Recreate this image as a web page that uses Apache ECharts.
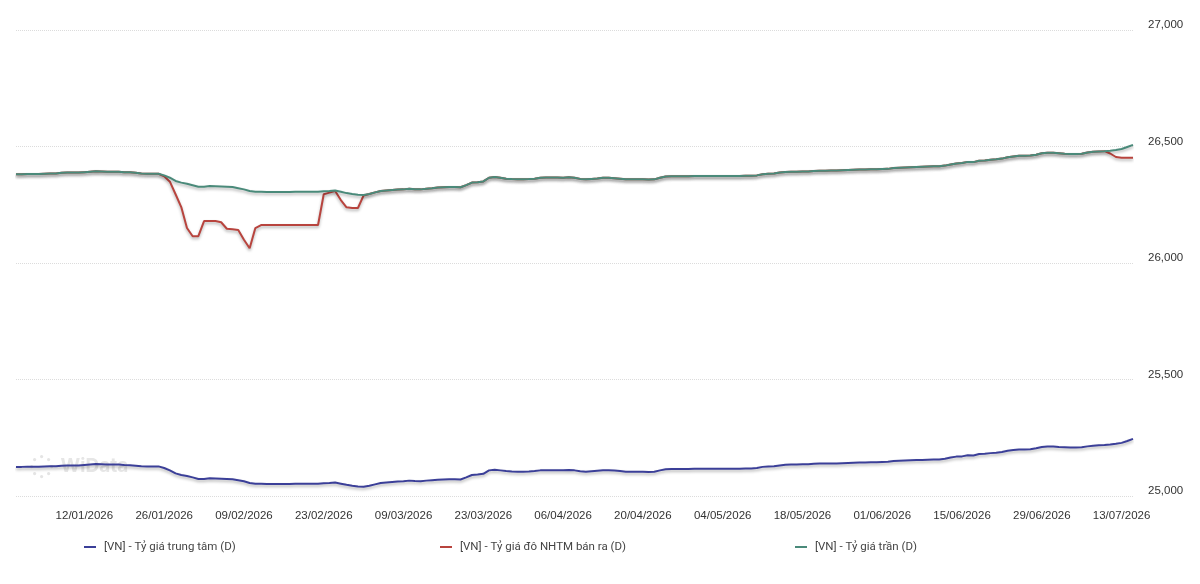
<!DOCTYPE html>
<html><head><meta charset="utf-8">
<script src="https://cdn.jsdelivr.net/npm/echarts@6/dist/echarts.min.js"></script>
<style>html,body{margin:0;padding:0;background:#fff}#c{width:1200px;height:584px}</style>
</head><body><div id="c"></div>
<script>
// Daily categories 31/12/2025 .. 15/07/2026
const START_UTC = Date.UTC(2025, 11, 31);
const DAY_COUNT = 197;
const categories = [];
for (let i = 0; i < DAY_COUNT; i++) {
  const d = new Date(START_UTC + i * 86400000);
  const dd = String(d.getUTCDate()).padStart(2, '0');
  const mm = String(d.getUTCMonth() + 1).padStart(2, '0');
  categories.push(dd + '/' + mm + '/' + d.getUTCFullYear());
}

const seriesNames = [
  '[VN] - Tỷ giá trung tâm (D)',
  '[VN] - Tỷ giá đô NHTM bán ra (D)',
  '[VN] - Tỷ giá trần (D)'
];

const central = [
25125,25125,25126,25126,25126,25127,25128,25128,25130,25131,
25131,25131,25133,25135,25137,25136,25135,25135,25135,25133,
25132,25130,25128,25127,25127,25127,25120,25110,25097,25090,
25086,25080,25073,25073,25076,25075,25074,25073,25072,25068,
25063,25056,25053,25053,25052,25052,25052,25052,25052,25053,
25053,25053,25053,25053,25055,25056,25058,25053,25048,25044,
25041,25040,25044,25050,25056,25058,25060,25062,25063,25066,
25064,25063,25066,25068,25070,25071,25072,25072,25071,25080,
25090,25092,25095,25110,25113,25110,25107,25105,25104,25104,
25105,25107,25110,25111,25111,25111,25110,25112,25110,25106,
25104,25106,25108,25110,25110,25109,25107,25104,25104,25104,
25104,25103,25104,25110,25115,25116,25116,25116,25116,25117,
25117,25117,25117,25117,25117,25117,25117,25117,25118,25118,
25120,25125,25127,25128,25131,25134,25135,25135,25136,25136,
25138,25139,25139,25140,25140,25141,25142,25143,25144,25144,
25145,25145,25146,25147,25150,25151,25152,25153,25154,25155,
25156,25157,25157,25160,25165,25169,25170,25175,25174,25180,
25181,25184,25186,25189,25194,25197,25200,25200,25201,25205,
25210,25212,25212,25210,25209,25208,25208,25209,25213,25216,
25218,25219,25221,25224,25228,25236,25245
];

const commercialSell = [
26381,26381,26382,26382,26382,26383,26384,26384,26387,26388,
26388,26388,26390,26392,26394,26393,26392,26392,26392,26390,
26389,26387,26384,26383,26383,26383,26372,26349,26295,26240,
26150,26115,26115,26180,26180,26180,26175,26147,26145,26142,
26100,26063,26150,26163,26163,26163,26163,26163,26163,26163,
26163,26163,26163,26163,26295,26302,26309,26270,26239,26236,
26236,26290,26296,26303,26309,26311,26313,26315,26316,26319,
26317,26316,26319,26321,26324,26325,26326,26326,26325,26334,
26345,26347,26350,26366,26369,26366,26362,26360,26359,26359,
26360,26362,26366,26367,26367,26367,26366,26368,26366,26361,
26359,26361,26363,26366,26366,26364,26362,26359,26359,26359,
26359,26358,26359,26366,26371,26372,26372,26372,26372,26373,
26373,26373,26373,26373,26373,26373,26373,26373,26374,26374,
26376,26381,26383,26384,26388,26391,26392,26392,26393,26393,
26395,26396,26396,26397,26397,26398,26399,26400,26401,26401,
26402,26402,26403,26404,26408,26409,26410,26411,26412,26413,
26414,26415,26415,26418,26423,26427,26429,26434,26433,26439,
26440,26443,26445,26448,26454,26457,26460,26460,26461,26465,
26471,26473,26473,26471,26469,26468,26468,26469,26474,26477,
26479,26480,26470,26455,26452,26452,26452
];

const ceiling = [
26381,26381,26382,26382,26382,26383,26384,26384,26387,26388,
26388,26388,26390,26392,26394,26393,26392,26392,26392,26390,
26389,26387,26384,26383,26383,26383,26376,26366,26352,26345,
26340,26334,26327,26327,26330,26329,26328,26327,26326,26321,
26316,26309,26306,26306,26305,26305,26305,26305,26305,26306,
26306,26306,26306,26306,26308,26309,26311,26306,26300,26296,
26293,26292,26296,26303,26309,26311,26313,26315,26316,26319,
26317,26316,26319,26321,26324,26325,26326,26326,26325,26334,
26345,26347,26350,26366,26369,26366,26362,26360,26359,26359,
26360,26362,26366,26367,26367,26367,26366,26368,26366,26361,
26359,26361,26363,26366,26366,26364,26362,26359,26359,26359,
26359,26358,26359,26366,26371,26372,26372,26372,26372,26373,
26373,26373,26373,26373,26373,26373,26373,26373,26374,26374,
26376,26381,26383,26384,26388,26391,26392,26392,26393,26393,
26395,26396,26396,26397,26397,26398,26399,26400,26401,26401,
26402,26402,26403,26404,26408,26409,26410,26411,26412,26413,
26414,26415,26415,26418,26423,26427,26429,26434,26433,26439,
26440,26443,26445,26448,26454,26457,26460,26460,26461,26465,
26471,26473,26473,26471,26469,26468,26468,26469,26474,26477,
26479,26480,26482,26485,26489,26498,26507
];

const Y_MIN = 25000, Y_MAX = 27000, Y_STEP = 500;
const FIRST_LABEL_INDEX = 12, LABEL_EVERY = 14;
const colors = ['#3b3f98', '#b8443e', '#4a8a7a'];
const values = [central, commercialSell, ceiling];

const chart = echarts.init(document.getElementById('c'), null, {renderer: 'canvas'});
const legendX = [79, 435, 790];
const option = {
  animation: false,
  backgroundColor: '#ffffff',
  grid: {left: 16, right: 67, top: 30, bottom: 88},
  xAxis: {
    type: 'category',
    data: categories,
    boundaryGap: false,
    axisLine: {show: false},
    axisTick: {show: false},
    splitLine: {show: false},
    axisLabel: {
      interval: (idx) => idx >= FIRST_LABEL_INDEX && (idx - FIRST_LABEL_INDEX) % LABEL_EVERY === 0,
      margin: 14,
      color: '#333',
      fontSize: 11.5,
      fontFamily: 'Liberation Sans, Arial, sans-serif'
    }
  },
  yAxis: {
    type: 'value',
    position: 'right',
    min: Y_MIN, max: Y_MAX, interval: Y_STEP,
    axisLine: {show: false},
    axisTick: {show: false},
    splitLine: {lineStyle: {color: '#dcdcdc', type: 'dotted', width: 1}},
    axisLabel: {
      margin: 15,
      color: '#333',
      fontSize: 11.5,
      fontFamily: 'Liberation Sans, Arial, sans-serif',
      verticalAlign: 'bottom',
      lineHeight: 10,
      formatter: (v) => v.toLocaleString('en-US')
    }
  },
  legend: seriesNames.map((n, i) => ({
    data: [n],
    left: legendX[i],
    top: 536,
    icon: 'rect',
    itemWidth: 12,
    itemHeight: 2,
    itemGap: 10,
    textStyle: {color: '#444', fontSize: 11.5, fontFamily: 'Roboto, sans-serif', padding: [0, 0, 0, 3]},
    selectedMode: false
  })),
  graphic: [
    {type: 'group', left: 30, top: 455, silent: true, children: [
      {type: 'circle', shape: {cx: 11, cy: 1, r: 1.6}, style: {fill: '#e4e4e4'}},
      {type: 'circle', shape: {cx: 11, cy: 21, r: 1.6}, style: {fill: '#e4e4e4'}},
      {type: 'circle', shape: {cx: 1, cy: 11, r: 1.6}, style: {fill: '#e4e4e4'}},
      {type: 'circle', shape: {cx: 21, cy: 11, r: 1.6}, style: {fill: '#e4e4e4'}},
      {type: 'circle', shape: {cx: 4, cy: 4, r: 1.6}, style: {fill: '#e4e4e4'}},
      {type: 'circle', shape: {cx: 18, cy: 4, r: 1.6}, style: {fill: '#e4e4e4'}},
      {type: 'circle', shape: {cx: 4, cy: 18, r: 1.6}, style: {fill: '#e4e4e4'}},
      {type: 'circle', shape: {cx: 18, cy: 18, r: 1.6}, style: {fill: '#e4e4e4'}},
      {type: 'text', x: 30, y: 1, style: {text: 'WiData', fill: '#e6e6e6', font: 'bold 19px Inter, sans-serif'}}
    ]}
  ],
  series: seriesNames.map((n, i) => ({
    name: n,
    type: 'line',
    data: values[i],
    showSymbol: false,
    symbol: 'none',
    color: colors[i],
    lineStyle: {width: 2, color: colors[i], shadowColor: 'rgba(0,0,0,0.3)', shadowBlur: 3, shadowOffsetY: 2},
    z: 2 + i
  }))
};
chart.setOption(option);
</script>
</body></html>
